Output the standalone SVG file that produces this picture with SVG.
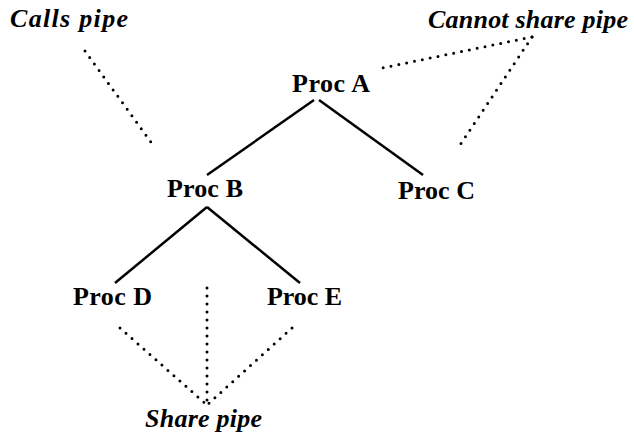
<svg xmlns="http://www.w3.org/2000/svg" width="634" height="435" viewBox="0 0 634 435">
<style>
.n{font-family:"Liberation Serif",serif;font-weight:bold;font-size:26px;fill:#000}
.l{font-family:"Liberation Serif",serif;font-weight:bold;font-style:italic;font-size:26px;fill:#000}
.s{stroke:#000;stroke-width:2.5;fill:none}
.d{stroke:#000;stroke-width:3;stroke-linecap:round;stroke-dasharray:0 8;fill:none}
</style>
<rect width="634" height="435" fill="#fff"/>
<g id="connectors">
<line class="s" x1="314" y1="100" x2="207" y2="175"/>
<line class="s" x1="319" y1="100" x2="423" y2="175"/>
<line class="s" x1="207" y1="207" x2="115" y2="283"/>
<line class="s" x1="207" y1="207" x2="300" y2="283"/>
<line class="d" x1="85" y1="51" x2="153" y2="145"/>
<line class="d" x1="532" y1="37" x2="382" y2="68"/>
<line class="d" x1="532" y1="37" x2="460" y2="145"/>
<line class="d" x1="120" y1="328" x2="207" y2="405"/>
<line class="d" x1="207" y1="288" x2="207" y2="405"/>
<line class="d" x1="292" y1="328" x2="207" y2="405"/>
</g>
<g id="label-calls"><text class="l" x="10" y="27" textLength="118" lengthAdjust="spacing">Calls pipe</text></g>
<g id="label-cannot"><text class="l" x="428" y="28" textLength="200" lengthAdjust="spacing">Cannot share pipe</text></g>
<g id="label-share"><text class="l" x="145" y="427" textLength="117" lengthAdjust="spacing">Share pipe</text></g>
<g id="procA"><text class="n" x="292" y="92" textLength="78" lengthAdjust="spacing">Proc A</text></g>
<g id="procB"><text class="n" x="167" y="197" textLength="76" lengthAdjust="spacing">Proc B</text></g>
<g id="procC"><text class="n" x="398" y="199" textLength="77" lengthAdjust="spacing">Proc C</text></g>
<g id="procD"><text class="n" x="73" y="305" textLength="79" lengthAdjust="spacing">Proc D</text></g>
<g id="procE"><text class="n" x="267" y="305" textLength="75" lengthAdjust="spacing">Proc E</text></g>
</svg>
